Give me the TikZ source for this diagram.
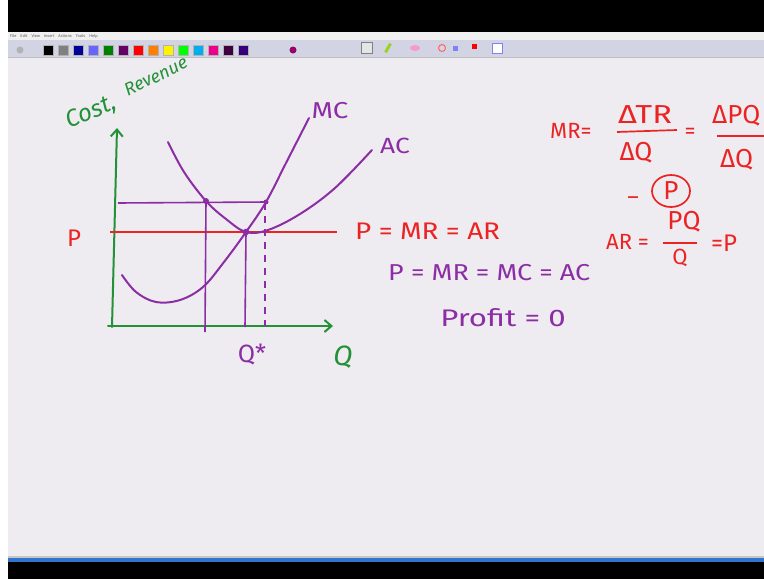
\documentclass[tikz,border=0pt]{standalone}
\usepackage{fontspec}
\setmainfont{Fira Sans}
\usetikzlibrary{arrows.meta,shapes.geometric}
\definecolor{gr}{RGB}{35,145,55}
\definecolor{pu}{RGB}{140,45,165}
\definecolor{rd}{RGB}{235,35,35}
\definecolor{canvas}{RGB}{238,236,240}
\definecolor{barblue}{RGB}{50,115,205}
\definecolor{tool}{RGB}{210,212,228}
\begin{document}
\begin{tikzpicture}[x=1pt,y=-1pt,
  ink/.style={line width=2pt,line cap=round,line join=round},
  axis/.style={ink,draw=gr},
  curve/.style={ink,draw=pu},
  pline/.style={line width=1.6pt,draw=pu},
  rline/.style={line width=1.7pt,draw=rd},
  rtext/.style={text=rd,font=\fontsize{22}{24}\selectfont,inner sep=0pt},
  rbig/.style={text=rd,font=\fontsize{26}{28}\selectfont,inner sep=0pt},
  ptext/.style={text=pu,font=\fontsize{23}{25}\selectfont,inner sep=0pt},
  gtext/.style={text=gr,font=\fontsize{22}{24}\selectfont\itshape,inner sep=0pt},
  swatch/.style={minimum width=10pt,minimum height=10pt,inner sep=0pt,draw=gray!60,line width=0.3pt}]
\useasboundingbox (0,0) rectangle (764,579);
% window frame
\fill[white] (0,0) rectangle (764,579);
\fill[black] (8,0) rectangle (764,32);
\fill[gray!12] (8,32) rectangle (764,40);
\fill[tool] (8,40) rectangle (764,57);
\draw[gray!50,line width=0.5pt] (8,57) -- (764,57);
\fill[canvas] (8,57.5) rectangle (764,557);
\fill[gray!45] (8,556) rectangle (764,557.5);
\fill[barblue] (8,557.5) rectangle (764,562);
\fill[black] (8,562) rectangle (764,579);
\node[anchor=west,inner sep=0pt,text=gray!70!black,font=\fontsize{4}{5}\selectfont] (menu) at (10,36.5) {File\quad Edit\quad View\quad Insert\quad Actions\quad Tools\quad Help};
% toolbar swatches
\foreach \c [count=\i] in {black,gray,blue!60!black,blue!60,green!50!black,violet!80!black,red,orange,yellow,green,cyan,magenta,violet!50!black,blue!40!violet!70!black}
  \node[swatch,fill=\c] (sw\i) at ({48+15*(\i-1)},50) {};
\node[circle,fill=gray!60,minimum size=7pt,inner sep=0pt] (ic0) at (20,50) {};
\node[circle,fill=red!60!blue,minimum size=7pt,inner sep=0pt] (ic1) at (293,50) {};
\node[draw=gray,fill=gray!20,minimum size=11pt,inner sep=0pt] (ic2) at (367,48) {};
\node[fill=yellow!60!green,minimum width=3pt,minimum height=10pt,rotate=-30,inner sep=0pt] (ic3) at (388,48) {};
\node[ellipse,fill=magenta!40,minimum width=10pt,minimum height=6pt,inner sep=0pt] (ic4) at (415,48) {};
\node[circle,draw=red!60,line width=1pt,minimum size=7pt,inner sep=0pt] (ic5) at (442,48) {};
\node[fill=blue!50,minimum size=5pt,inner sep=0pt] (ic6) at (455,48) {};
\node[fill=red,minimum size=5pt,inner sep=0pt] (ic7) at (474,46) {};
\node[draw=blue!50,fill=white,minimum size=10pt,inner sep=0pt] (ic8) at (497,48) {};
% axes
\coordinate (O) at (112,326);
\coordinate (Ytop) at (117,128);
\coordinate (Xend) at (333,326);
\draw[axis,-{Straight Barb[length=7pt,width=12pt]}] (112,327) -- (Ytop);
\draw[axis,-{Straight Barb[length=7pt,width=12pt]}] (108,326) -- (Xend);
\node[gtext,font=\fontsize{24}{26}\selectfont\itshape,rotate=22,anchor=south west] (ylab1) at (71,132) {Cost,};
\node[gtext,font=\fontsize{18}{20}\selectfont\itshape,rotate=26,anchor=south west] (ylab2) at (128,97) {Revenue};
\node[gtext,font=\fontsize{28}{30}\selectfont\itshape] (qlab) at (343,357) {Q};
% price line
\coordinate (Pl) at (110,232);
\coordinate (Pr) at (337,232);
\draw[rline] (Pl) -- (Pr);
\node[rtext,font=\fontsize{24}{26}\selectfont] (plab) at (74,238) {P};
\node[rtext,anchor=west,font=\fontsize{24}{26}\selectfont,xscale=1.16] (pmrar) at (355,231) {P = MR = AR};
% upper horizontal
\coordinate (Hl) at (118,203);
\coordinate (Hr) at (267,202);
\draw[pline] (Hl) -- (Hr);
% verticals
\coordinate (V1t) at (206,200);
\coordinate (V1b) at (205,332);
\coordinate (V2t) at (246,232);
\coordinate (V2b) at (245,327);
\coordinate (V3t) at (265,203);
\coordinate (V3b) at (265,326);
\draw[pline] (V1t) -- (V1b);
\draw[pline] (V2t) -- (V2b);
\draw[pline,dashed,dash pattern=on 7pt off 6pt] (V3t) -- (V3b);
% curves
\draw[curve] plot[smooth,tension=0.6] coordinates {(122,275) (136,292) (156,302) (180,300) (203,287) (224,262) (246,232) (266,202) (286,163) (309,118)};
\draw[curve] plot[smooth,tension=0.6] coordinates {(168,142) (184,172) (206,201) (226,219) (246,232) (268,230) (300,214) (335,188) (372,150)};
\fill[pu] (206,201) circle (3pt) (246,232) circle (3.3pt) (266,202) circle (2.5pt);
\node[ptext,xscale=1.2] (mc) at (330,111) {MC};
\node[ptext,font=\fontsize{22}{24}\selectfont,xscale=1.2] (ac) at (395,146) {AC};
\node[ptext,font=\fontsize{25}{27}\selectfont] (qstar) at (252,355) {Q*};
\node[ptext,anchor=west,xscale=1.17] (eq1) at (388,273) {P = MR = MC = AC};
\node[ptext,anchor=west,font=\fontsize{24}{26}\selectfont,xscale=1.3] (eq2) at (440,318) {Profit = 0};
% right formulas
\node[rtext,anchor=west] (mr) at (550,131) {MR=};
\node[rbig,xscale=1.25] (dtr) at (645,115) {ΔTR};
\draw[rline] (617,132) -- (677,130);
\node[rbig] (dq1) at (636,153) {ΔQ};
\node[rtext] (e1) at (690,133) {=};
\node[rbig,anchor=west] (dpq) at (712,116) {ΔPQ};
\draw[rline] (717,136) -- (764,136);
\node[rbig,anchor=west] (dq2) at (720,160) {ΔQ};
\node[rtext] (dash) at (633,201) {–};
\node[rbig] (pc) at (671,191) {P};
\draw[rline] (pc) ellipse (19pt and 16pt);
\node[rtext,anchor=west] (ar) at (606,242) {AR =};
\node[rbig] (pq) at (684,222) {PQ};
\draw[rline] (663,243) -- (697,243);
\node[rtext] (q3) at (680,258) {Q};
\node[rtext,anchor=west,font=\fontsize{24}{26}\selectfont] (eqp) at (711,243) {=P};
\end{tikzpicture}
\end{document}
